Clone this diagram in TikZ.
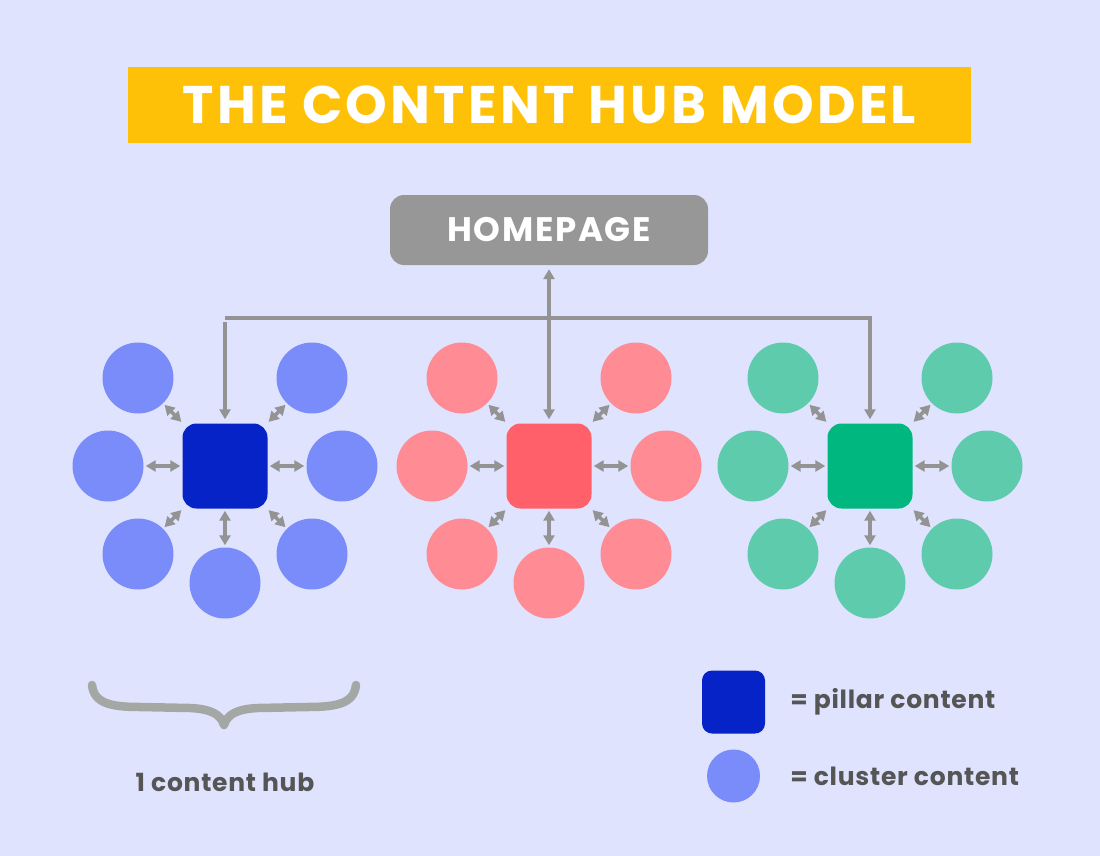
\documentclass[tikz,border=0pt]{standalone}
\usepackage{fontspec}
\setmainfont{Poppins}
\usepackage{tikz}
\usetikzlibrary{arrows.meta}
\usetikzlibrary{positioning}
\definecolor{pageBg}{HTML}{E0E3FE}
\definecolor{titleYellow}{HTML}{FFC107}
\definecolor{homeGray}{HTML}{979797}
\definecolor{lineGray}{HTML}{939393}
\definecolor{braceGray}{HTML}{A4A8A5}
\definecolor{textGray}{HTML}{555555}
\definecolor{bluePillar}{HTML}{0623C8}
\definecolor{blueCluster}{HTML}{7A8CF9}
\definecolor{redPillar}{HTML}{FF6069}
\definecolor{redCluster}{HTML}{FF8C94}
\definecolor{greenPillar}{HTML}{00B77F}
\definecolor{greenCluster}{HTML}{5ECBAC}
\tikzset{pillar/.style = {fill, rectangle, rounded corners = 14pt, minimum size = 85pt, inner sep = 0}}
\tikzset{cluster/.style = {fill, circle, minimum size = 71pt, inner sep = 0}}
\tikzset{link/.style = {lineGray, line width = 3.5pt, {Triangle[length=10pt,width=11pt]}-{Triangle[length=10pt,width=11pt]}, shorten > = 2pt, shorten < = 2pt}}
\tikzset{feed/.style = {lineGray, line width = 3.5pt, shorten > = 4pt, shorten < = 4pt}}
\tikzset{keytext/.style = {text = textGray, font = \bfseries\fontsize{25}{30}\selectfont\addfontfeature{LetterSpace=3}, inner sep = 0}}

\begin{document}
\begin{tikzpicture}[x=1pt, y=-1pt]
    \fill[pageBg] (0, 0) rectangle (1100, 856);
    \useasboundingbox (0, 0) rectangle (1100, 856);
    % title and homepage
    \node [fill = titleYellow, minimum width = 843pt, minimum height = 76pt, text = white,
      font = \bfseries\fontsize{53}{60}\selectfont\addfontfeature{LetterSpace=6}] (title) at (549.5, 105) {THE CONTENT HUB MODEL};
    \node [fill = homeGray, rounded corners = 14pt, minimum width = 318pt, minimum height = 70pt, text = white,
      font = \bfseries\fontsize{34}{40}\selectfont\addfontfeature{LetterSpace=5}] (home) at (549, 230) {HOMEPAGE};
    % hubs
    \foreach \hx/\hub/\pc/\cc in {225/a/bluePillar/blueCluster, 549/b/redPillar/redCluster, 870/c/greenPillar/greenCluster}{
      \node [pillar, fill = \pc] (\hub) at (\hx, 466) {};
      \foreach \dx/\dy/\k in {-87/-88/1, 87/-88/2, -117/0/3, 117/0/4, -87/88/5, 87/88/6, 0/117/7}{
        \node [cluster, fill = \cc] (\hub\k) at (\hx + \dx, 466 + \dy) {};
        \draw [link] (\hub) -- (\hub\k);
      }
    }
    % homepage links
    \coordinate (bus) at (549, 318);
    \draw [feed, {Triangle[length=10pt,width=11pt]}-{Triangle[length=10pt,width=11pt]}] (home) -- (b);
    \draw [feed, -{Triangle[length=10pt,width=11pt]}] (a |- bus) -- (a);
    \draw [feed, -{Triangle[length=10pt,width=11pt]}, shorten < = 0pt] (a |- bus) -- (c |- bus) -- (c);
    % brace
    \draw [braceGray, line width = 8.5pt, line cap = round, line join = round]
      (92, 685) .. controls (94, 703) and (110, 707) .. (140, 707)
      -- (190, 708) .. controls (212, 709) and (221, 715) .. (224, 725)
      .. controls (227, 715) and (236, 709) .. (258, 708)
      -- (308, 707) .. controls (338, 707) and (354, 703) .. (356, 685);
    \node [keytext] (hubtext) at (225, 782) {1 content hub};
    % legend
    \node [pillar, fill = bluePillar, minimum size = 63pt, rounded corners = 10pt] (keyP) at (733.5, 702) {};
    \node [cluster, fill = blueCluster, minimum size = 53pt] (keyC) at (733.5, 776) {};
    \node [keytext, right = 25pt of keyP] (keyPtext) {= pillar content};
    \node [keytext, right = 30pt of keyC] (keyCtext) {= cluster content};
\end{tikzpicture}
\end{document}
